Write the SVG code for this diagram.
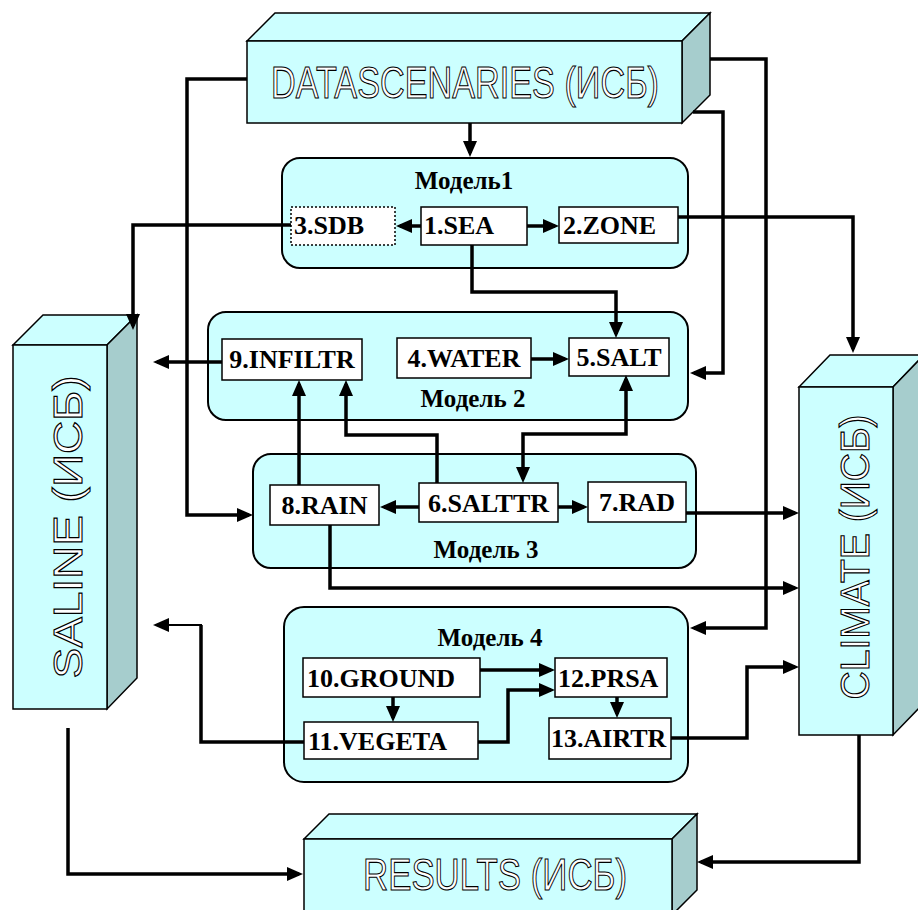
<svg xmlns="http://www.w3.org/2000/svg" width="918" height="910" viewBox="0 0 918 910">
<defs>
<marker id="ah" viewBox="0 0 16 14" markerWidth="16" markerHeight="14" refX="12" refY="7" orient="auto-start-reverse" markerUnits="userSpaceOnUse">
<path d="M0,0 L16,7 L0,14 z" fill="#000"/>
</marker>
<style>
.front{fill:#ccffff;stroke:#000;stroke-width:1.5}
.top{fill:#ccffff;stroke:#000;stroke-width:1.5}
.side{fill:#a6cdcd;stroke:#000;stroke-width:1.5}
.big{font-family:"Liberation Sans",Arial,sans-serif;font-size:44px;fill:#fff;stroke:#000;stroke-width:1.1;text-anchor:middle}
.model{fill:#ccffff;stroke:#000;stroke-width:2}
.mt{font-family:"Liberation Serif","Times New Roman",serif;font-weight:bold;font-size:25px;fill:#000;text-anchor:middle}
.box{fill:#fff;stroke:#000;stroke-width:1.5}
.dot{fill:#fff;stroke:#000;stroke-width:1.5;stroke-dasharray:2 2}
.lb{font-family:"Liberation Serif","Times New Roman",serif;font-weight:bold;font-size:26px;fill:#000}
.c{text-anchor:middle}
.ln{fill:none;stroke:#000;stroke-width:3.5}
.thin{fill:none;stroke:#000;stroke-width:2}
.arr{marker-end:url(#ah)}
</style>
</defs>

<g id="datascenaries">
<polygon class="top" points="247,41 275,13 710,13 682,41"/>
<polygon class="side" points="682,41 710,13 710,95 682,123"/>
<rect class="front" x="247" y="41" width="435" height="82"/>
<text class="big" x="465" y="98" textLength="388" lengthAdjust="spacingAndGlyphs">DATASCENARIES (ИСБ)</text>
</g>

<g id="saline">
<polygon class="top" points="13,345 43,315 137,315 107,345"/>
<polygon class="side" points="107,345 137,315 137,678 107,709"/>
<rect class="front" x="13" y="345" width="94" height="364"/>
<text class="big" transform="translate(82,527) rotate(-90)" x="0" y="0" style="font-size:40px" textLength="303" lengthAdjust="spacingAndGlyphs">SALINE (ИСБ)</text>
</g>

<g id="climate">
<polygon class="top" points="799,387 830,355 924,355 893,387"/>
<polygon class="side" points="893,387 924,355 924,703 893,735"/>
<rect class="front" x="799" y="387" width="94" height="348"/>
<text class="big" transform="translate(869,557) rotate(-90)" x="0" y="0" style="font-size:40px" textLength="285" lengthAdjust="spacingAndGlyphs">CLIMATE (ИСБ)</text>
</g>

<g id="results">
<polygon class="top" points="304,839 329,814 697,814 672,839"/>
<polygon class="side" points="672,839 697,814 697,890 672,915"/>
<rect class="front" x="304" y="839" width="368" height="80"/>
<text class="big" x="495" y="890" textLength="264" lengthAdjust="spacingAndGlyphs">RESULTS (ИСБ)</text>
</g>

<g id="model1">
<rect class="model" x="282" y="158" width="406" height="110" rx="18"/>
<text class="mt" x="464" y="189">Модель1</text>
</g>
<g id="model2">
<rect class="model" x="208" y="312" width="480" height="108" rx="18"/>
<text class="mt" x="473" y="407">Модель 2</text>
</g>
<g id="model3">
<rect class="model" x="253" y="454" width="443" height="114" rx="18"/>
<text class="mt" x="486" y="558">Модель 3</text>
</g>
<g id="model4">
<rect class="model" x="284" y="607" width="404" height="175" rx="20"/>
<text class="mt" x="490" y="646">Модель 4</text>
</g>

<g id="n3-sdb"><rect class="dot" x="291" y="207" width="104" height="38"/><text class="lb" x="294" y="234">3.SDB</text></g>
<g id="n1-sea"><rect class="box" x="421" y="207" width="106" height="38"/><text class="lb" x="424" y="234">1.SEA</text></g>
<g id="n2-zone"><rect class="box" x="559" y="207" width="119" height="36"/><text class="lb" x="563" y="234">2.ZONE</text></g>
<g id="n9-infiltr"><rect class="box" x="222" y="339" width="140" height="41"/><text class="lb c" x="292" y="368">9.INFILTR</text></g>
<g id="n4-water"><rect class="box" x="397" y="338" width="134" height="40"/><text class="lb c" x="464" y="367">4.WATER</text></g>
<g id="n5-salt"><rect class="box" x="569" y="338" width="100" height="38"/><text class="lb c" x="619" y="366">5.SALT</text></g>
<g id="n8-rain"><rect class="box" x="270" y="485" width="109" height="40"/><text class="lb c" x="324.5" y="514">8.RAIN</text></g>
<g id="n6-salttr"><rect class="box" x="419" y="483" width="139" height="39"/><text class="lb c" x="488.5" y="512">6.SALTTR</text></g>
<g id="n7-rad"><rect class="box" x="588" y="482" width="98" height="40"/><text class="lb c" x="637" y="511">7.RAD</text></g>
<g id="n10-ground"><rect class="box" x="303" y="658" width="177" height="39"/><text class="lb" x="307" y="687">10.GROUND</text></g>
<g id="n11-vegeta"><rect class="box" x="304" y="722" width="174" height="37"/><text class="lb" x="308" y="750">11.VEGETA</text></g>
<g id="n12-prsa"><rect class="box" x="555" y="658" width="112" height="39"/><text class="lb" x="558" y="687">12.PRSA</text></g>
<g id="n13-airtr"><rect class="box" x="549" y="718" width="122" height="41"/><text class="lb" x="551" y="747">13.AIRTR</text></g>

<g id="connectors">
<path class="ln arr" d="M470,123 V153"/>
<path class="ln arr" d="M291,225 H133 V326"/>
<path class="ln arr" d="M421,226 H400"/>
<path class="ln arr" d="M527,226 H555"/>
<path class="ln arr" d="M678,217 H853 V349"/>
<path class="ln arr" d="M472,245 V292 H616 V334"/>
<path class="ln arr" d="M247,79 H187 V515 H249"/>
<path class="ln arr" d="M710,59 H766 V628 H694"/>
<path class="ln arr" d="M693,112 H723 V373 H694"/>
<path class="ln arr" d="M222,362 H157"/>
<path class="ln arr" d="M531,359 H565"/>
<path class="ln arr" d="M299,485 V384"/>
<path class="ln arr" d="M437,483 V435 H346 V384"/>
<path class="ln arr" d="M626,379 V434 H523 V479" marker-start="url(#ah)"/>
<path class="ln arr" d="M419,507 H384"/>
<path class="ln arr" d="M558,507 H584"/>
<path class="ln arr" d="M686,513 H795"/>
<path class="ln arr" d="M330,525 V588 H795"/>
<path class="ln arr" d="M480,670 H551"/>
<path class="ln arr" d="M393,697 V718"/>
<path class="ln arr" d="M478,742 H508 V690 H551"/>
<path class="ln arr" d="M617,697 V714"/>
<path class="ln" d="M304,742 H201 V625"/>
<path class="thin arr" d="M202,625 H157"/>
<path class="ln arr" d="M671,738 H747 V667 H795"/>
<path class="ln arr" d="M68,728 V874 H299"/>
<path class="ln arr" d="M859,735 V862 H701"/>
</g>
</svg>
